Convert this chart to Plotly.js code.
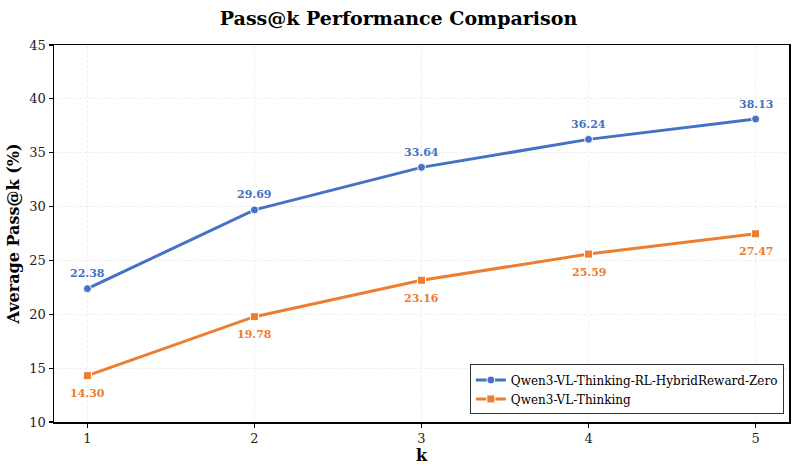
<!DOCTYPE html>
<html><head><meta charset="utf-8">
<script src="https://cdn.plot.ly/plotly-3.0.1.min.js"></script>
<style>body{margin:0;background:#fff}#c{width:797px;height:472px}</style>
</head><body><div id="c"></div>
<script>
const kValues = [1, 2, 3, 4, 5];
const hybridName = 'Qwen3-VL-Thinking-RL-HybridReward-Zero';
const hybridValues = [22.38, 29.69, 33.64, 36.24, 38.13];
const baseName = 'Qwen3-VL-Thinking';
const baseValues = [14.30, 19.78, 23.16, 25.59, 27.47];
const yTicks = [10, 15, 20, 25, 30, 35, 40, 45];

const blue = '#4472C4', orange = '#ED7D31';
const serif = 'DejaVu Serif, serif';

const traces = [
  {x: kValues, y: hybridValues, name: hybridName, mode: 'lines+markers',
   line: {color: blue, width: 3}, marker: {symbol: 'circle', size: 8, color: blue, line: {color: '#fff', width: 1}}},
  {x: kValues, y: baseValues, name: baseName, mode: 'lines+markers',
   line: {color: orange, width: 3}, marker: {symbol: 'square', size: 8, color: orange, line: {color: '#fff', width: 1}}}
];

const annotations = [];
kValues.forEach((k, i) => {
  annotations.push({x: k, y: hybridValues[i], text: hybridValues[i].toFixed(2), showarrow: false,
    yshift: 15, font: {family: serif, size: 11, color: blue, weight: 'bold'}});
  annotations.push({x: k, y: baseValues[i], text: baseValues[i].toFixed(2), showarrow: false,
    yshift: -18, font: {family: serif, size: 11, color: orange, weight: 'bold'}});
});

const axisCommon = {showline: true, linecolor: '#000', linewidth: 1.5, mirror: true,
  ticks: 'outside', ticklen: 4, tickcolor: '#000', tickwidth: 1.2,
  gridcolor: 'rgba(0,0,0,0.08)', griddash: '3px,2px', gridwidth: 0.8, zeroline: false,
  tickfont: {family: serif, size: 13, color: '#222'}};

const layout = {
  width: 797, height: 472,
  margin: {l: 54, r: 8, t: 45, b: 50},
  paper_bgcolor: '#fff', plot_bgcolor: '#fff',
  title: {text: 'Pass@k Performance Comparison', x: 0.5, xanchor: 'center', y: 0.962, yanchor: 'middle',
    font: {family: serif, size: 19, color: '#000', weight: 'bold'}},
  xaxis: Object.assign({}, axisCommon, {range: [0.8, 5.2], tickvals: kValues,
    title: {text: 'k', standoff: 4, font: {family: serif, size: 16, color: '#000', weight: 'bold'}}}),
  yaxis: Object.assign({}, axisCommon, {range: [10, 45], tickvals: yTicks,
    title: {text: 'Average Pass@k (%)', standoff: 6, font: {family: serif, size: 16, color: '#000', weight: 'bold'}}}),
  legend: {x: 0.993, y: 0.02, xanchor: 'right', yanchor: 'bottom', bgcolor: 'rgba(255,255,255,0.9)',
    bordercolor: '#333', borderwidth: 1, font: {family: serif, size: 12, color: '#000'},
    tracegroupgap: 0, itemwidth: 30},
  annotations: annotations,
  showlegend: true
};

Plotly.newPlot('c', traces, layout, {displayModeBar: false, staticPlot: true});
</script></body></html>
